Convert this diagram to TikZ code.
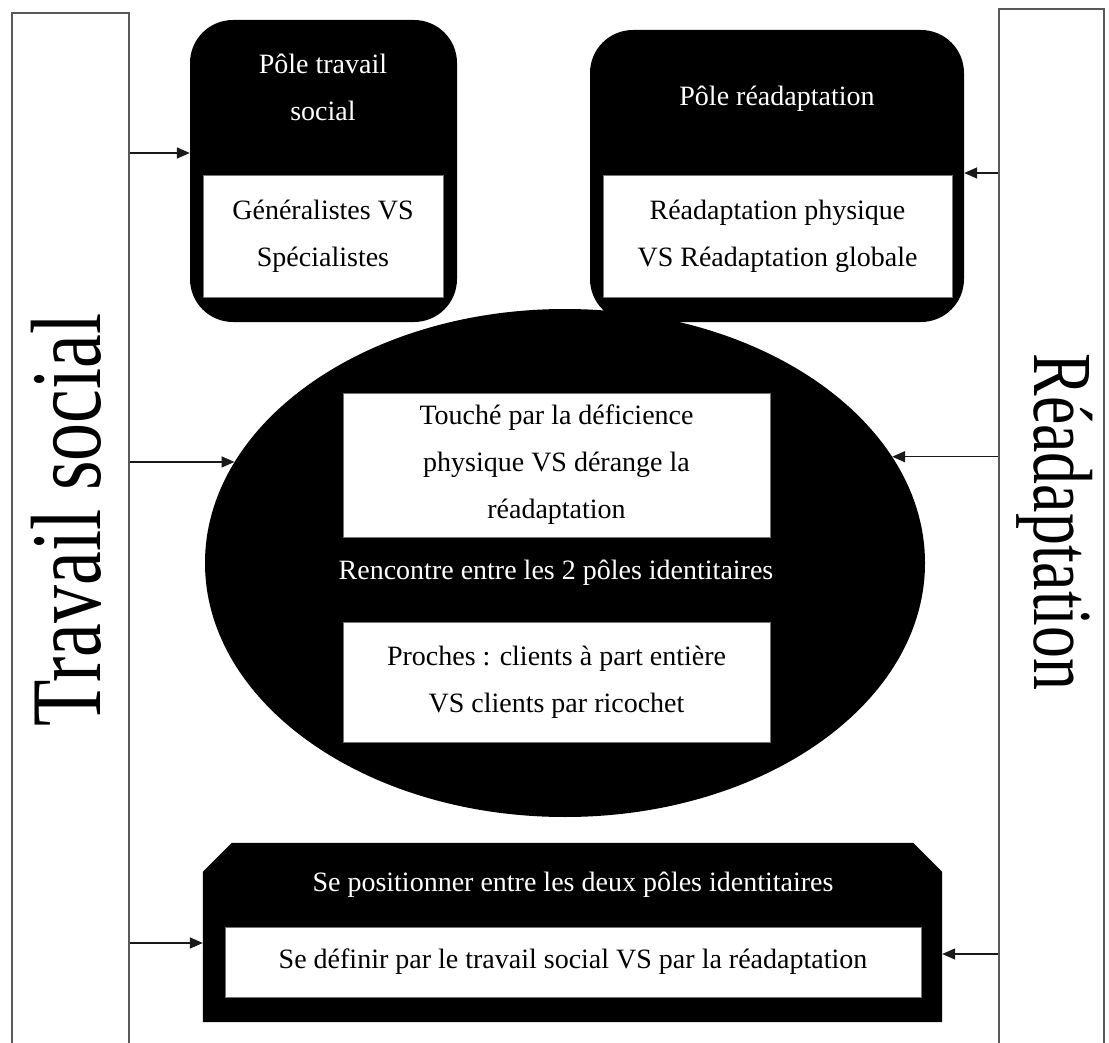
\documentclass[tikz,border=0pt]{standalone}
\usepackage{fontspec}
\setmainfont{Liberation Serif}
\usetikzlibrary{arrows.meta,positioning,shapes.geometric,calc}
\newcommand{\boxfont}{\fontsize{28}{47}\selectfont}
\newcommand{\sidefont}{\fontsize{100}{100}\selectfont}
\newcommand{\rdfont}{\fontsize{84}{84}\selectfont}
\tikzset{
  sidebar/.style={draw=black!65,line width=1.3pt,fill=white,inner sep=0pt},
  polebox/.style={fill=black,rounded corners=43pt,inner sep=0pt},
  whitebox/.style={fill=white,draw=black!55,line width=0.6pt,align=center,
                   inner sep=0pt,font=\boxfont},
  whitetxt/.style={text=white,align=center,font=\boxfont,inner sep=0pt},
  arr/.style={-{Triangle[length=13pt,width=11pt]},line width=1.5pt,draw=black!90}
}

\begin{document}
\begin{tikzpicture}[x=1pt,y=-1pt]
    \clip (0,0) rectangle (1109,1043);
    \fill[white] (0,0) rectangle (1109,1043);
    % the two side bands
    \node[sidebar,minimum width=117pt,minimum height=1047pt] (ts) at (70.5,536.5) {};
    \node[sidebar,minimum width=105pt,minimum height=1051pt] (rd) at (1051.5,534.5) {};
    \node[rotate=90,inner sep=0pt] (tslabel) at (66,520)
      {\scalebox{0.76}[1]{\sidefont Travail social}};
    \node[rotate=-90,inner sep=0pt] (rdlabel) at (1055,522)
      {\scalebox{0.76}[1]{\rdfont Réadaptation}};
    % the two poles
    \node[polebox,minimum width=267pt,minimum height=302pt] (pts) at (323.5,171) {};
    \node[whitetxt] (ptstitle) at (323,87) {Pôle travail\\social};
    \node[whitebox,minimum width=240pt,minimum height=122pt] (gen) at (323,236)
      {Généralistes VS\\Spécialistes};
    \node[polebox,minimum width=374pt,minimum height=292pt] (prd) at (777,176) {};
    \node[whitetxt] (prdtitle) at (777,99) {Pôle réadaptation};
    \node[whitebox,minimum width=349pt,minimum height=122pt] (rphys) at (777.5,236)
      {Réadaptation physique\\VS Réadaptation globale};
    % meeting of the two poles
    \node[ellipse,fill=black,minimum width=720pt,minimum height=508pt,inner sep=0pt]
      (ell) at (565,563) {};
    \node[whitebox,minimum width=427pt,minimum height=144pt] (touche) at (556.5,465)
      {Touché par la déficience\\physique VS dérange la\\réadaptation};
    \node[whitetxt] (rencontre) at (556,573) {Rencontre entre les 2 pôles identitaires};
    \node[whitebox,minimum width=427pt,minimum height=120pt] (proches) at (556.5,682)
      {Proches : clients à part entière\\VS clients par ricochet};
    % positioning between the poles, top corners cut off
    \node[minimum width=739pt,minimum height=179pt,inner sep=0pt] (pos) at (572.5,932.5) {};
    \fill ($(pos.north west)+(0,29)$) -- ($(pos.north west)+(29,0)$)
      -- ($(pos.north east)+(-29,0)$) -- ($(pos.north east)+(0,29)$)
      -- (pos.south east) -- (pos.south west) -- cycle;
    \node[whitetxt] (postitle) at (573,885) {Se positionner entre les deux pôles identitaires};
    \node[whitebox,minimum width=696pt,minimum height=70pt] (definir) at (573,962)
      {Se définir par le travail social VS par la réadaptation};
    % arrows from the side bands
    \coordinate (y1) at (0,153);
    \coordinate (y2) at (0,173);
    \coordinate (y5) at (0,943);
    \coordinate (y6) at (0,954);
    \draw[arr] (ts.east |- y1) -- (pts.west |- y1);
    \draw[arr] (rd.west |- y2) -- (prd.east |- y2);
    \draw[arr] (ts.east |- ell.163) -- (ell.163);
    \draw[arr] (rd.west |- ell.18) -- (ell.18);
    \draw[arr] (ts.east |- y5) -- (pos.west |- y5);
    \draw[arr] (rd.west |- y6) -- (pos.east |- y6);
\end{tikzpicture}
\end{document}
